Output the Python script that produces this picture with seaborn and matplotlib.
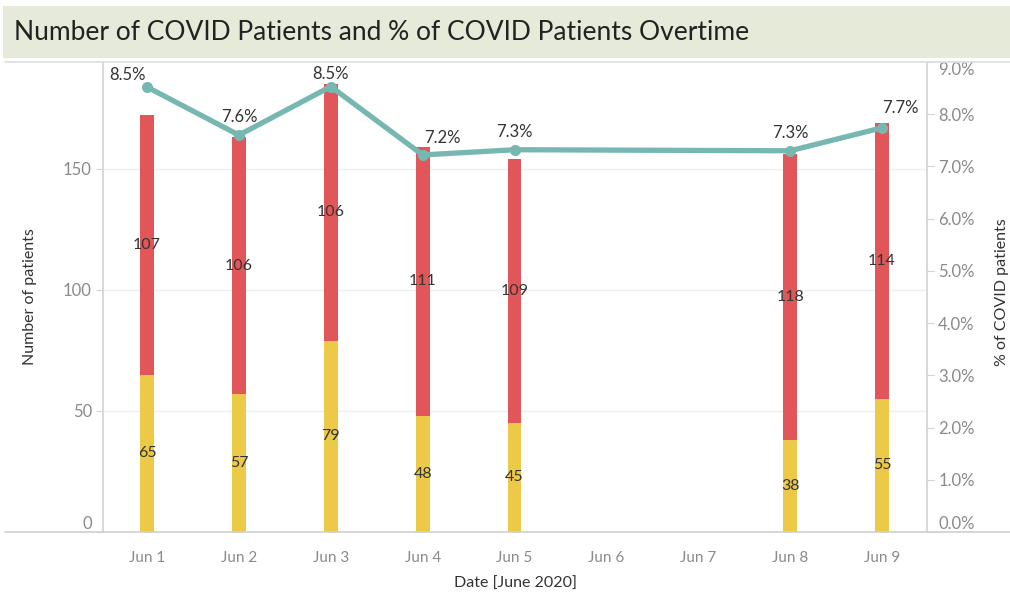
import numpy as np
import pandas as pd
import matplotlib
matplotlib.use("Agg")
import matplotlib.pyplot as plt
import seaborn as sns
from matplotlib.patches import Rectangle
from matplotlib.lines import Line2D
from matplotlib.ticker import FuncFormatter

# data
all_days = ["Jun 1", "Jun 2", "Jun 3", "Jun 4", "Jun 5", "Jun 6", "Jun 7", "Jun 8", "Jun 9"]
bar_days = ["Jun 1", "Jun 2", "Jun 3", "Jun 4", "Jun 5", "Jun 8", "Jun 9"]
covid = [65, 57, 79, 48, 45, 38, 55]
other = [107, 106, 106, 111, 109, 118, 114]
pct_covid = [8.52, 7.60, 8.53, 7.22, 7.32, 7.30, 7.74]

RED = "#E15759"
YELLOW = "#EDC948"
TEAL = "#76B7B2"
GRID = "#EFEFEF"
AXIS = "#D4D4D4"
TICK = "#8A8A8A"
TEXT = "#333333"

df = pd.DataFrame({"date": bar_days, "covid": covid, "other": other, "pct": pct_covid})
df["total"] = df["covid"] + df["other"]
df["pos"] = [all_days.index(d) for d in df["date"]]

sns.set_theme(style="white")
plt.rcParams["font.family"] = ["Lato", "DejaVu Sans"]

fig = plt.figure(figsize=(10.1, 5.92), dpi=100)
ax = fig.add_axes([103 / 1010, 1 - 532 / 592, (927 - 103) / 1010, (532 - 62) / 592])

# stacked bars: total in red, covid part in yellow over it
sns.barplot(data=df, x="date", y="total", order=all_days, color=RED, width=0.15,
            saturation=1, linewidth=0, ax=ax)
sns.barplot(data=df, x="date", y="covid", order=all_days, color=YELLOW, width=0.15,
            saturation=1, linewidth=0, ax=ax)

for _, r in df.iterrows():
    ax.text(r["pos"], r["covid"] / 2, str(r["covid"]), ha="center", va="center",
            fontsize=11.5, color=TEXT)
    ax.text(r["pos"], r["covid"] + r["other"] / 2, str(r["other"]), ha="center",
            va="center", fontsize=11.5, color=TEXT)

ax.set_xlim(-0.48, 8.49)
ax.set_ylim(0, 194)
ax.set_yticks([0, 50, 100, 150])
ax.yaxis.grid(True, color=GRID, lw=1)
ax.set_axisbelow(True)
ax.tick_params(axis="y", colors=TICK, labelsize=12, length=5, width=0.8, color=AXIS, pad=3)
ax.tick_params(axis="x", colors=TICK, labelsize=11, length=4, width=0.8, color="#EEEEEE", pad=10)
for lab in ax.get_xticklabels():
    lab.set_color(TICK)
ax.get_yticklabels()[0].set_va("bottom")
ax.set_xlabel("Date [June 2020]", fontsize=11.5, color=TEXT, labelpad=8)
ax.set_ylabel("Number of patients", fontsize=11.5, color=TEXT)
ax.yaxis.label.set_va("center")
ax.yaxis.set_label_coords(-73 / 824, 0.5)
for s in ["top", "right", "bottom"]:
    ax.spines[s].set_visible(False)
ax.spines["left"].set_color(AXIS)

# percentage line on the right axis
ax2 = ax.twinx()
sns.lineplot(data=df, x="pos", y="pct", color=TEAL, lw=3.8, marker="o", markersize=8,
             markeredgewidth=0, ax=ax2)
ax2.set_xlim(-0.48, 8.49)
ax2.set_ylim(0, 9)
ax2.set_yticks(np.arange(0, 10, 1))
ax2.yaxis.set_major_formatter(FuncFormatter(lambda v, p: f"{v:.1f}%"))
ax2.tick_params(axis="y", colors=TICK, labelsize=12, length=5, width=0.8, color=AXIS, pad=3)
fig.canvas.draw()
ylabs = ax2.get_yticklabels()
ylabs[0].set_va("bottom")
ylabs[-1].set_va("top")
ax2.set_ylabel("% of COVID patients", fontsize=11.5, color=TEXT)
ax2.yaxis.label.set_va("center")
ax2.yaxis.set_label_coords(1 + 75 / 824, 0.51)
for s in ["top", "left", "bottom"]:
    ax2.spines[s].set_visible(False)
ax2.spines["right"].set_color(AXIS)

# label offsets (points) chosen like the reference to dodge bars
label_offsets = [(-14, 9), (0, 13), (0, 9), (14, 12), (0, 13), (0, 13), (13, 14)]
for (_, r), off in zip(df.iterrows(), label_offsets):
    ax2.annotate(f"{r['pct']:.1f}%", (r["pos"], r["pct"]), xytext=off,
                 textcoords="offset points", ha="center", va="center",
                 fontsize=12, color=TEXT)

# frame lines across the whole width, like the dashboard pane
fig.add_artist(Line2D([0.005, 1], [1 - 62 / 592] * 2, color="#DDDDDD", lw=1.2))
fig.add_artist(Line2D([0.005, 1], [1 - 532 / 592] * 2, color="#D0D0D0", lw=1.2))

# title banner
fig.add_artist(Rectangle((3 / 1010, 1 - 58 / 592), 1, 52 / 592, transform=fig.transFigure,
                         facecolor="#E6EAD8", edgecolor="none"))
fig.text(14 / 1010, 1 - 33 / 592, "Number of COVID Patients and % of COVID Patients Overtime",
         fontsize=19, color="#222222", va="center", ha="left")

fig.savefig("out.png", dpi=100)
